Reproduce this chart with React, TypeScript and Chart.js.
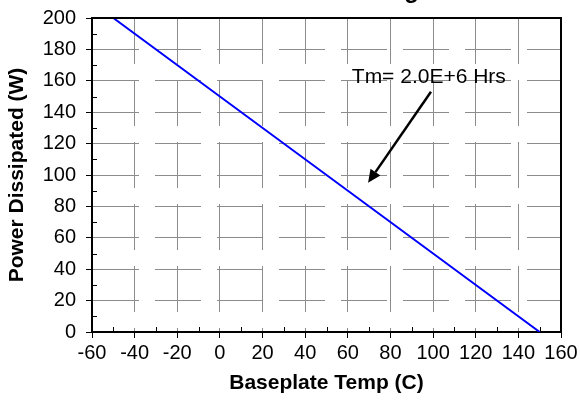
import { useEffect, useRef } from "react";
import { Chart, registerables } from "chart.js";

Chart.register(...registerables);

// ---- data ----
const temps = [-50, 0, 50, 100, 150];
const power = [200, 150, 100, 50, 0];
const xTickValues = [-60, -40, -20, 0, 20, 40, 60, 80, 100, 120, 140, 160];
const yTickValues = [0, 20, 40, 60, 80, 100, 120, 140, 160, 180, 200];
const xMinorTicks = [-50, -30, -10, 10, 30, 50, 70, 90, 110, 130, 150];
const yMinorTicks = [10, 30, 50, 70, 90, 110, 130, 150, 170, 190];
const xTitle = "Baseplate Temp (C)";
const yTitle = "Power Dissipated (W)";
const chartTitle = "Power Derating";
const noteText = "Tm= 2.0E+6 Hrs";
const noteAt = [98, 162];
const arrowFrom = [99, 153];
const arrowTo = [69.5, 95];

const FONT = "'Liberation Sans', Arial, sans-serif";

const decorPlugin = {
  id: "decor",
  afterDraw(chart: any) {
    const { ctx, chartArea, scales } = chart;
    const xs = scales.x;
    const ys = scales.y;
    ctx.save();
    // partial chart title (cut off at the top)
    ctx.fillStyle = "#000";
    ctx.font = `bold 24px ${FONT}`;
    ctx.textAlign = "right";
    ctx.textBaseline = "alphabetic";
    ctx.fillText(chartTitle, 419, -2);

    // minor ticks inside plot
    ctx.strokeStyle = "#000";
    ctx.lineWidth = 1;
    ctx.beginPath();
    for (const v of yMinorTicks) {
      const py = Math.round(ys.getPixelForValue(v)) + 0.5;
      ctx.moveTo(chartArea.left, py);
      ctx.lineTo(chartArea.left + 5, py);
    }
    for (const v of xMinorTicks) {
      const px = Math.round(xs.getPixelForValue(v)) + 0.5;
      ctx.moveTo(px, chartArea.bottom);
      ctx.lineTo(px, chartArea.bottom - 5);
    }
    ctx.stroke();

    // top & right frame
    ctx.lineWidth = 2;
    ctx.beginPath();
    ctx.moveTo(chartArea.left, chartArea.top);
    ctx.lineTo(chartArea.right, chartArea.top);
    ctx.lineTo(chartArea.right, chartArea.bottom);
    ctx.stroke();

    // annotation text
    ctx.font = `21px ${FONT}`;
    ctx.textAlign = "center";
    ctx.textBaseline = "middle";
    ctx.fillText(noteText, xs.getPixelForValue(noteAt[0]), ys.getPixelForValue(noteAt[1]));

    // arrow
    const x1 = xs.getPixelForValue(arrowFrom[0]);
    const y1 = ys.getPixelForValue(arrowFrom[1]);
    const x2 = xs.getPixelForValue(arrowTo[0]);
    const y2 = ys.getPixelForValue(arrowTo[1]);
    const ang = Math.atan2(y2 - y1, x2 - x1);
    const headLen = 13;
    const headW = 6;
    const bx = x2 - headLen * Math.cos(ang);
    const by = y2 - headLen * Math.sin(ang);
    ctx.lineWidth = 2.5;
    ctx.beginPath();
    ctx.moveTo(x1, y1);
    ctx.lineTo(bx, by);
    ctx.stroke();
    ctx.beginPath();
    ctx.moveTo(x2, y2);
    ctx.lineTo(bx + headW * Math.sin(ang), by - headW * Math.cos(ang));
    ctx.lineTo(bx - headW * Math.sin(ang), by + headW * Math.cos(ang));
    ctx.closePath();
    ctx.fill();
    ctx.restore();
  },
};

export default function App() {
  const ref = useRef<HTMLCanvasElement | null>(null);

  useEffect(() => {
    if (!ref.current) return;
    const gridCommon = {
      color: "#8c8c8c",
      lineWidth: 1,
      tickColor: "#000",
      tickLength: 6,
      tickWidth: 1,
    };
    const chart = new Chart(ref.current, {
      type: "scatter",
      data: {
        datasets: [
          {
            data: temps.map((t, i) => ({ x: t, y: power[i] })),
            showLine: true,
            borderColor: "#0000ff",
            backgroundColor: "#0000ff",
            borderWidth: 2,
            pointRadius: 0,
          },
        ],
      },
      options: {
        animation: false,
        responsive: true,
        maintainAspectRatio: false,
        layout: { padding: { top: 18, right: 19, left: 0, bottom: 0 } },
        plugins: {
          legend: { display: false },
          tooltip: { enabled: false },
        },
        scales: {
          x: {
            type: "linear",
            position: "bottom",
            min: -60,
            max: 160,
            afterBuildTicks: (s: any) => {
              s.ticks = xTickValues.map((v) => ({ value: v }));
            },
            afterFit: (s: any) => {
              s.height = 70;
              s.paddingLeft = 0;
              s.paddingRight = 0;
            },
            ticks: {
              color: "#000",
              font: { family: FONT, size: 20 },
              padding: 3,
              maxRotation: 0,
              autoSkip: false,
            },
            grid: gridCommon,
            border: { display: true, color: "#000", width: 2, dash: [46, 16] },
            title: {
              display: true,
              text: xTitle,
              color: "#000",
              font: { family: FONT, size: 21, weight: "bold" },
              padding: { top: 0, bottom: 6 },
            },
          },
          y: {
            type: "linear",
            min: 0,
            max: 200,
            afterBuildTicks: (s: any) => {
              s.ticks = yTickValues.map((v) => ({ value: v }));
            },
            afterFit: (s: any) => {
              s.width = 92;
              s.paddingTop = 0;
              s.paddingBottom = 0;
            },
            ticks: {
              color: "#000",
              font: { family: FONT, size: 20 },
              padding: 10,
              autoSkip: false,
            },
            grid: gridCommon,
            border: { display: true, color: "#000", width: 2, dash: [46, 16] },
            title: {
              display: true,
              text: yTitle,
              color: "#000",
              font: { family: FONT, size: 21, weight: "bold" },
              padding: { top: 5, bottom: 0 },
            },
          },
        },
      } as any,
      plugins: [decorPlugin],
    });
    return () => chart.destroy();
  }, []);

  return (
    <div style={{ position: "absolute", left: 0, top: 0, width: 580, height: 402, background: "#fff" }}>
      <canvas ref={ref} />
    </div>
  );
}
